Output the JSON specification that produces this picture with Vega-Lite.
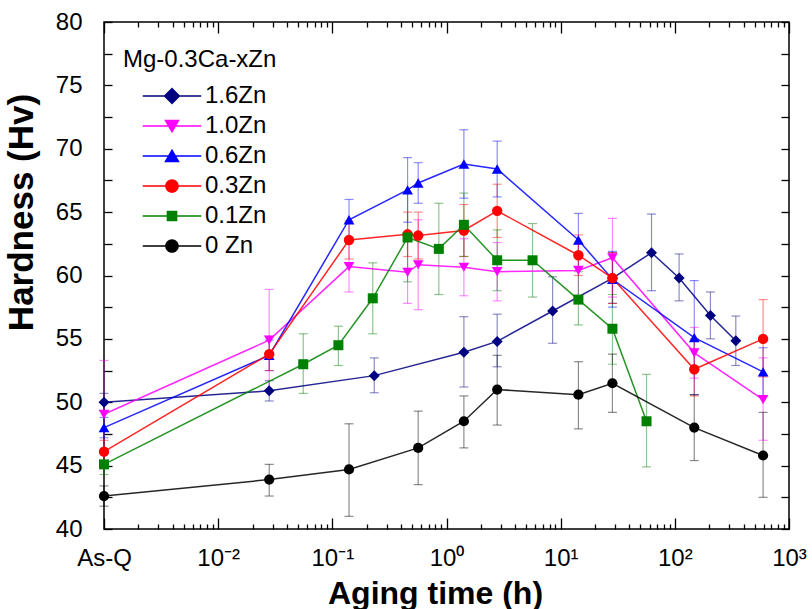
{
  "$schema": "https://vega.github.io/schema/vega-lite/v6.json",
  "width": 685,
  "height": 507,
  "autosize": {"type": "none"},
  "padding": {"left": 104, "top": 22, "right": 23, "bottom": 80},
  "background": "white",
  "config": {
    "view": {"stroke": "black", "strokeWidth": 1.5},
    "font": "Liberation Sans",
    "axis": {"grid": false, "domain": false, "tickColor": "black", "tickWidth": 1.3, "labelColor": "black", "labelFont": "Liberation Sans", "labelFontSize": 24, "titleColor": "black", "titleFont": "Liberation Sans"}
  },
  "data": {
    "values": [
      {"s": "1.6Zn", "t": 0.001, "h": 50.0, "lo": 49.3, "hi": 50.7},
      {"s": "1.6Zn", "t": 0.028, "h": 50.9, "lo": 50.1, "hi": 51.7},
      {"s": "1.6Zn", "t": 0.233, "h": 52.1, "lo": 50.75, "hi": 53.5},
      {"s": "1.6Zn", "t": 1.42, "h": 53.95, "lo": 51.2, "hi": 56.75},
      {"s": "1.6Zn", "t": 2.78, "h": 54.8, "lo": 52.8, "hi": 56.95},
      {"s": "1.6Zn", "t": 8.5, "h": 57.2, "lo": 54.65, "hi": 59.9},
      {"s": "1.6Zn", "t": 28.5, "h": 59.8, "lo": 57.8, "hi": 61.8},
      {"s": "1.6Zn", "t": 62.5, "h": 61.8, "lo": 58.8, "hi": 64.85},
      {"s": "1.6Zn", "t": 109, "h": 59.8, "lo": 58.0, "hi": 61.7},
      {"s": "1.6Zn", "t": 205, "h": 56.85, "lo": 55.0, "hi": 58.7},
      {"s": "1.6Zn", "t": 342, "h": 54.85, "lo": 52.9, "hi": 56.8},
      {"s": "1.0Zn", "t": 0.001, "h": 49.05, "lo": 44.8, "hi": 53.3},
      {"s": "1.0Zn", "t": 0.028, "h": 54.9, "lo": 50.9, "hi": 58.9},
      {"s": "1.0Zn", "t": 0.14, "h": 60.7, "lo": 58.7, "hi": 62.7},
      {"s": "1.0Zn", "t": 0.456, "h": 60.25, "lo": 57.8, "hi": 62.7},
      {"s": "1.0Zn", "t": 0.565, "h": 60.85, "lo": 57.3, "hi": 64.4},
      {"s": "1.0Zn", "t": 1.42, "h": 60.65, "lo": 58.4, "hi": 62.9},
      {"s": "1.0Zn", "t": 2.78, "h": 60.3, "lo": 58.0, "hi": 62.6},
      {"s": "1.0Zn", "t": 14.3, "h": 60.4, "lo": 58.3, "hi": 62.5},
      {"s": "1.0Zn", "t": 28.4, "h": 61.4, "lo": 58.3, "hi": 64.5},
      {"s": "1.0Zn", "t": 148, "h": 53.9, "lo": 51.9, "hi": 55.9},
      {"s": "1.0Zn", "t": 593, "h": 50.2, "lo": 47.0, "hi": 53.5},
      {"s": "0.6Zn", "t": 0.001, "h": 48.0, "lo": 47.2, "hi": 48.8},
      {"s": "0.6Zn", "t": 0.028, "h": 53.7, "lo": 52.5, "hi": 54.9},
      {"s": "0.6Zn", "t": 0.14, "h": 64.4, "lo": 62.8, "hi": 66.0},
      {"s": "0.6Zn", "t": 0.456, "h": 66.75, "lo": 64.2, "hi": 69.3},
      {"s": "0.6Zn", "t": 0.565, "h": 67.3, "lo": 65.7, "hi": 68.9},
      {"s": "0.6Zn", "t": 1.42, "h": 68.8, "lo": 66.1, "hi": 71.5},
      {"s": "0.6Zn", "t": 2.78, "h": 68.4, "lo": 66.2, "hi": 70.6},
      {"s": "0.6Zn", "t": 14.3, "h": 62.8, "lo": 60.7, "hi": 64.9},
      {"s": "0.6Zn", "t": 28.4, "h": 59.7, "lo": 57.5, "hi": 61.9},
      {"s": "0.6Zn", "t": 148, "h": 55.1, "lo": 50.6, "hi": 59.6},
      {"s": "0.6Zn", "t": 593, "h": 52.4, "lo": 50.5, "hi": 54.3},
      {"s": "0.3Zn", "t": 0.001, "h": 46.1, "lo": 45.2, "hi": 47.0},
      {"s": "0.3Zn", "t": 0.028, "h": 53.8, "lo": 52.5, "hi": 55.2},
      {"s": "0.3Zn", "t": 0.14, "h": 62.8, "lo": 61.3, "hi": 64.3},
      {"s": "0.3Zn", "t": 0.456, "h": 63.25, "lo": 61.5, "hi": 65.0},
      {"s": "0.3Zn", "t": 0.565, "h": 63.15, "lo": 61.3, "hi": 65.0},
      {"s": "0.3Zn", "t": 1.42, "h": 63.55, "lo": 61.5, "hi": 65.6},
      {"s": "0.3Zn", "t": 2.78, "h": 65.1, "lo": 63.0, "hi": 67.2},
      {"s": "0.3Zn", "t": 14.3, "h": 61.6, "lo": 60.0, "hi": 63.2},
      {"s": "0.3Zn", "t": 28.4, "h": 59.8, "lo": 57.8, "hi": 61.8},
      {"s": "0.3Zn", "t": 148, "h": 52.6, "lo": 50.5, "hi": 55.0},
      {"s": "0.3Zn", "t": 593, "h": 55.0, "lo": 52.0, "hi": 58.1},
      {"s": "0.1Zn", "t": 0.001, "h": 45.1, "lo": 44.3, "hi": 46.0},
      {"s": "0.1Zn", "t": 0.0556, "h": 53.0, "lo": 50.7, "hi": 55.4},
      {"s": "0.1Zn", "t": 0.113, "h": 54.5, "lo": 52.9, "hi": 56.0},
      {"s": "0.1Zn", "t": 0.226, "h": 58.2, "lo": 55.4, "hi": 61.0},
      {"s": "0.1Zn", "t": 0.456, "h": 63.0, "lo": 59.5, "hi": 66.5},
      {"s": "0.1Zn", "t": 0.857, "h": 62.1, "lo": 58.5, "hi": 65.7},
      {"s": "0.1Zn", "t": 1.42, "h": 64.0, "lo": 61.5, "hi": 66.5},
      {"s": "0.1Zn", "t": 2.78, "h": 61.2, "lo": 58.8, "hi": 63.6},
      {"s": "0.1Zn", "t": 5.67, "h": 61.2, "lo": 58.3, "hi": 64.1},
      {"s": "0.1Zn", "t": 14.3, "h": 58.1, "lo": 56.1, "hi": 60.3},
      {"s": "0.1Zn", "t": 28.4, "h": 55.8, "lo": 53.0, "hi": 58.5},
      {"s": "0.1Zn", "t": 56.5, "h": 48.5, "lo": 44.9, "hi": 52.2},
      {"s": "0 Zn", "t": 0.001, "h": 42.6, "lo": 41.8, "hi": 43.4},
      {"s": "0 Zn", "t": 0.028, "h": 43.9, "lo": 42.6, "hi": 45.1},
      {"s": "0 Zn", "t": 0.14, "h": 44.7, "lo": 41.0, "hi": 48.3},
      {"s": "0 Zn", "t": 0.565, "h": 46.4, "lo": 43.5, "hi": 49.3},
      {"s": "0 Zn", "t": 1.42, "h": 48.5, "lo": 46.4, "hi": 50.5},
      {"s": "0 Zn", "t": 2.78, "h": 51.0, "lo": 48.2, "hi": 53.7},
      {"s": "0 Zn", "t": 14.3, "h": 50.6, "lo": 47.9, "hi": 53.2},
      {"s": "0 Zn", "t": 28.4, "h": 51.5, "lo": 49.2, "hi": 53.8},
      {"s": "0 Zn", "t": 148, "h": 48.0, "lo": 45.4, "hi": 50.6},
      {"s": "0 Zn", "t": 593, "h": 45.8, "lo": 42.5, "hi": 49.2}
    ]
  },
  "layer": [
    {
      "mark": {"type": "rule", "strokeWidth": 1.2, "opacity": 0.45},
      "encoding": {
        "x": {"field": "t", "type": "quantitative", "scale": {"type": "log", "domain": [0.001, 1000], "nice": false},
          "axis": {"orient": "bottom", "values": [0.001, 0.01, 0.1, 1, 10, 100, 1000], "tickSize": -11, "labelPadding": 28, "labelFlush": false, "labelOverlap": false,
            "labelExpr": "datum.value < 0.005 ? 'As-Q' : datum.value < 0.05 ? '10⁻²' : datum.value < 0.5 ? '10⁻¹' : datum.value < 5 ? '10⁰' : datum.value < 50 ? '10¹' : datum.value < 500 ? '10²' : '10³'",
            "title": "Aging time (h)", "titleFontSize": 32, "titleFontWeight": "bold", "titleX": 331, "titleY": 74, "titleBaseline": "alphabetic", "titleAlign": "center"}},
        "y": {"field": "lo", "type": "quantitative", "scale": {"domain": [40, 80], "nice": false, "zero": false},
          "axis": {"orient": "left", "values": [40, 45, 50, 55, 60, 65, 70, 75, 80], "tickSize": -8, "labelPadding": 30, "labelFlush": false, "labelOverlap": false,
            "title": "Hardness (Hv)", "titleFontSize": 35, "titleFontWeight": "bold", "titleX": -72, "titleY": 190, "titleBaseline": "alphabetic", "titleAlign": "center", "titleAngle": -90}},
        "y2": {"field": "hi"},
        "color": {"field": "s", "type": "nominal", "scale": {"domain": ["1.6Zn", "1.0Zn", "0.6Zn", "0.3Zn", "0.1Zn", "0 Zn"], "range": ["#000080", "#FF00FF", "#0000FF", "#FF0000", "#008000", "#000000"]}}
      }
    },
    {
      "mark": {"type": "tick", "orient": "horizontal", "size": 9, "thickness": 1.2, "opacity": 0.45},
      "encoding": {
        "x": {"field": "t", "type": "quantitative", "scale": {"type": "log", "domain": [0.001, 1000], "nice": false},
          "axis": {"orient": "bottom", "values": [0.002,0.003,0.004,0.005,0.006,0.007,0.008,0.009,0.02,0.03,0.04,0.05,0.06,0.07,0.08,0.09,0.2,0.3,0.4,0.5,0.6,0.7,0.8,0.9,2,3,4,5,6,7,8,9,20,30,40,50,60,70,80,90,200,300,400,500,600,700,800,900], "tickSize": -5, "labels": false, "title": null}},
        "y": {"field": "lo", "type": "quantitative", "scale": {"domain": [40, 80], "nice": false, "zero": false},
          "axis": {"orient": "left", "values": [42.5, 47.5, 52.5, 57.5, 62.5, 67.5, 72.5, 77.5], "tickSize": -8, "labels": false, "title": null}},
        "color": {"field": "s", "type": "nominal"}
      }
    },
    {
      "mark": {"type": "tick", "orient": "horizontal", "size": 9, "thickness": 1.2, "opacity": 0.45},
      "encoding": {
        "x": {"field": "t", "type": "quantitative", "scale": {"type": "log", "domain": [0.001, 1000], "nice": false},
          "axis": {"orient": "top", "values": [0.001, 0.01, 0.1, 1, 10, 100, 1000], "tickSize": -11, "labels": false, "title": null}},
        "y": {"field": "hi", "type": "quantitative", "scale": {"domain": [40, 80], "nice": false, "zero": false},
          "axis": {"orient": "right", "values": [40,42.5,45,47.5,50,52.5,55,57.5,60,62.5,65,67.5,70,72.5,75,77.5,80], "tickSize": -8, "labels": false, "title": null}},
        "color": {"field": "s", "type": "nominal"}
      }
    },
    {
      "mark": {"type": "line", "strokeWidth": 1.5, "strokeOpacity": 0.85},
      "encoding": {
        "x": {"field": "t", "type": "quantitative", "scale": {"type": "log", "domain": [0.001, 1000], "nice": false},
          "axis": {"orient": "top", "values": [0.002,0.003,0.004,0.005,0.006,0.007,0.008,0.009,0.02,0.03,0.04,0.05,0.06,0.07,0.08,0.09,0.2,0.3,0.4,0.5,0.6,0.7,0.8,0.9,2,3,4,5,6,7,8,9,20,30,40,50,60,70,80,90,200,300,400,500,600,700,800,900], "tickSize": -5, "labels": false, "title": null}},
        "y": {"field": "h", "type": "quantitative", "scale": {"domain": [40, 80], "nice": false, "zero": false}, "axis": null},
        "color": {"field": "s", "type": "nominal"},
        "detail": {"field": "s"}
      }
    },
    {
      "mark": {"type": "point", "filled": true, "opacity": 1, "strokeWidth": 0},
      "encoding": {
        "x": {"field": "t", "type": "quantitative", "scale": {"type": "log", "domain": [0.001, 1000], "nice": false}, "axis": null},
        "y": {"field": "h", "type": "quantitative", "scale": {"domain": [40, 80], "nice": false, "zero": false}, "axis": null},
        "shape": {"field": "s", "type": "nominal", "scale": {"domain": ["0 Zn", "0.1Zn", "0.3Zn", "0.6Zn", "1.0Zn", "1.6Zn"], "range": ["circle", "square", "circle", "triangle-up", "triangle-down", "diamond"]}, "legend": null},
        "size": {"field": "s", "type": "nominal", "scale": {"domain": ["0.1Zn", "0 Zn", "0.3Zn", "1.0Zn", "0.6Zn", "1.6Zn"], "range": [100, 121, 121, 169, 169, 190]}, "legend": null},
        "color": {"field": "s", "type": "nominal",
          "legend": {"title": "Mg-0.3Ca-xZn", "orient": "none", "legendX": 19, "legendY": 26, "padding": 0,
            "titleFontSize": 24, "titleFontWeight": "normal", "titleFont": "Liberation Sans", "titleColor": "black", "titlePadding": 12,
            "labelFontSize": 24, "labelFont": "Liberation Sans", "labelColor": "black",
            "symbolSize": 169, "symbolStrokeWidth": 0, "symbolOpacity": 1, "symbolOffset": 37, "labelOffset": 21, "rowPadding": 6,
            "encode": {"symbols": {"update": {
              "shape": {"signal": "datum.value == '1.6Zn' ? 'M-4.5,-0.12H4.5V0.12H-4.5ZM0,-1.3L1.3,0L0,1.3L-1.3,0Z' : datum.value == '1.0Zn' ? 'M-4.5,-0.12H4.5V0.12H-4.5ZM-1.2,-0.95L1.2,-0.95L0,1.1Z' : datum.value == '0.6Zn' ? 'M-4.5,-0.12H4.5V0.12H-4.5ZM0,-1.1L1.2,0.95L-1.2,0.95Z' : datum.value == '0.1Zn' ? 'M-4.5,-0.12H4.5V0.12H-4.5ZM-0.82,-0.82H0.82V0.82H-0.82Z' : 'M-4.5,-0.12H4.5V0.12H-4.5ZM1.05,0A1.05,1.05,0,1,1,-1.05,0A1.05,1.05,0,1,1,1.05,0Z'"},
              "opacity": {"value": 1}
            }}}
          }}
      }
    }
  ],
  "resolve": {"axis": {"x": "independent", "y": "independent"}}
}
